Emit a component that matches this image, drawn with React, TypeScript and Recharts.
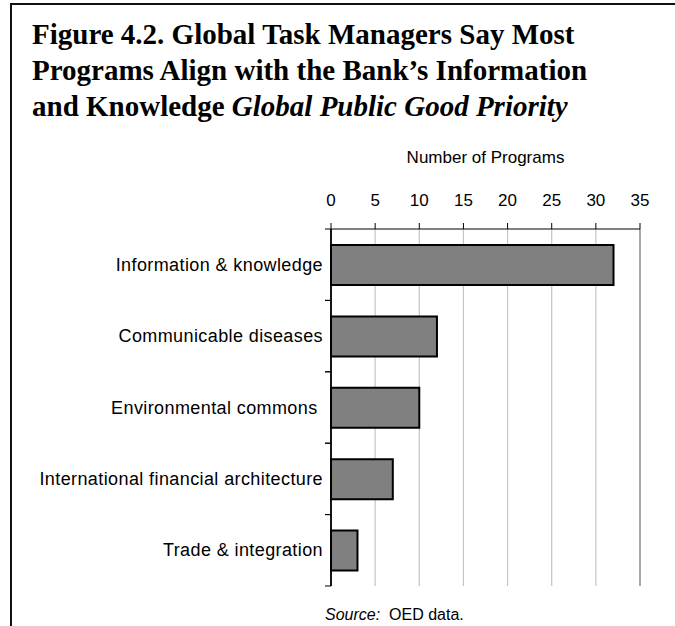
import React from 'react';
import { BarChart, Bar, XAxis, YAxis, CartesianGrid, ReferenceLine } from 'recharts';

const categories = [
  'Information & knowledge',
  'Communicable diseases',
  'Environmental commons\u00a0',
  'International financial architecture',
  'Trade & integration',
];
const programs = [32, 12, 10, 7, 3];
const xTicks = [0, 5, 10, 15, 20, 25, 30, 35];
const axisTitle = 'Number of Programs';

const data = categories.map((c, i) => ({ category: c, value: programs[i] }));

const W = 675;
const H = 626;
const PLOT_LEFT = 331;
const PLOT_TOP = 229;
const PLOT_RIGHT = 640;
const PLOT_BOTTOM = 586;
const XAXIS_H = 30;
const BAND = (PLOT_BOTTOM - PLOT_TOP) / categories.length;
const SANS = '"Liberation Sans", Arial, sans-serif';
const SERIF = '"Liberation Serif", "Times New Roman", serif';

const CategoryTick = (props: any) => {
  const { x, y, payload } = props;
  return (
    <g>
      <text
        x={x}
        y={y}
        dy={6}
        textAnchor="end"
        fontFamily={SANS}
        fontSize={18}
        letterSpacing={0.4}
        fill="#000"
      >
        {payload.value}
      </text>
      <line x1={x + 2} x2={x + 8} y1={y - BAND / 2} y2={y - BAND / 2} stroke="#000" strokeWidth={1} />
      <line x1={x + 2} x2={x + 8} y1={y + BAND / 2} y2={y + BAND / 2} stroke="#000" strokeWidth={1} />
    </g>
  );
};

export default function App() {
  return (
    <div style={{ position: 'absolute', left: 0, top: 0, width: W, height: H, background: '#fff', overflow: 'hidden' }}>
      <div
        style={{
          position: 'absolute',
          left: 10,
          top: 3,
          width: W - 10,
          height: H - 3,
          borderTop: '2px solid #111',
          borderLeft: '2px solid #111',
          boxSizing: 'border-box',
        }}
      />
      <div
        style={{
          position: 'absolute',
          left: 32,
          top: 16,
          fontFamily: SERIF,
          fontWeight: 'bold',
          fontSize: 29,
          lineHeight: '36px',
          whiteSpace: 'nowrap',
          color: '#000',
        }}
      >
        <div>Figure 4.2. Global Task Managers Say Most</div>
        <div>Programs Align with the Bank’s Information</div>
        <div>
          and Knowledge <i>Global Public Good Priority</i>
        </div>
      </div>
      <div style={{ position: 'absolute', left: 0, top: 0 }}>
        <BarChart
          width={W}
          height={H}
          data={data}
          layout="vertical"
          margin={{ left: 0, top: PLOT_TOP - XAXIS_H, right: W - PLOT_RIGHT, bottom: H - PLOT_BOTTOM }}
          barSize={40}
        >
          <CartesianGrid xAxisId="t" horizontal={false} stroke="#c4c4c4" strokeWidth={1.2} />
          <XAxis
            xAxisId="t"
            type="number"
            orientation="top"
            domain={[0, 35]}
            ticks={xTicks}
            interval={0}
            height={XAXIS_H}
            tickSize={6}
            tickMargin={17}
            axisLine={{ stroke: '#000', strokeWidth: 1 }}
            tickLine={{ stroke: '#000', strokeWidth: 1 }}
            tick={{ fontFamily: SANS, fontSize: 17, fill: '#000' }}
            label={{ value: axisTitle, position: 'top', offset: 36, fontFamily: SANS, fontSize: 17, fill: '#000' }}
          />
          <XAxis
            xAxisId="b"
            type="number"
            orientation="bottom"
            domain={[0, 35]}
            height={0}
            tick={false}
            tickLine={false}
            axisLine={{ stroke: '#999', strokeWidth: 1.5 }}
          />
          <YAxis
            type="category"
            dataKey="category"
            width={PLOT_LEFT}
            tickSize={6}
            tickMargin={2}
            tickLine={false}
            interval={0}
            axisLine={{ stroke: '#000', strokeWidth: 1.8 }}
            tick={<CategoryTick />}
          />
          <ReferenceLine xAxisId="t" x={35} stroke="#999" strokeWidth={1.5} />
          <Bar xAxisId="t" dataKey="value" fill="#808080" stroke="#000" strokeWidth={2} isAnimationActive={false} />
        </BarChart>
      </div>
      <div
        style={{
          position: 'absolute',
          left: 325,
          top: 607,
          fontFamily: SANS,
          fontSize: 16,
          lineHeight: '16px',
          whiteSpace: 'pre',
          color: '#000',
        }}
      >
        <i>Source:</i>{'  OED data.'}
      </div>
    </div>
  );
}
